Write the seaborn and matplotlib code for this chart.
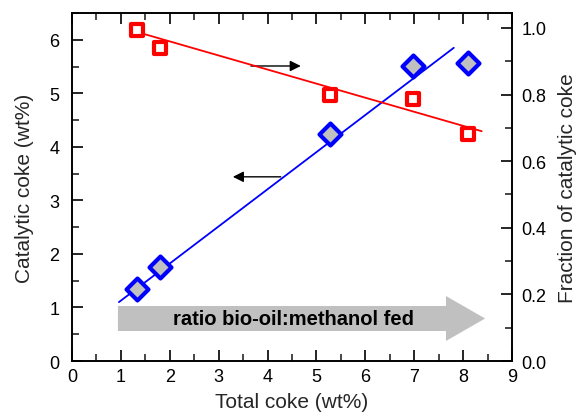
import matplotlib
matplotlib.use("Agg")
import matplotlib.pyplot as plt
from matplotlib.patches import FancyArrow
from matplotlib.ticker import MultipleLocator, FormatStrFormatter
import pandas as pd
import seaborn as sns

# Measured points
total_coke = [1.33, 1.80, 5.28, 6.97, 8.10]
catalytic_coke = [1.35, 1.76, 4.24, 5.51, 5.57]
frac_total = [1.33, 1.80, 5.28, 6.97, 8.10]
frac_catalytic = [0.994, 0.940, 0.800, 0.787, 0.682]

# Trend lines (end points of each linear fit)
cat_fit_x = [0.96, 7.81]
cat_fit_y = [1.10, 5.85]
frac_fit_x = [1.33, 8.38]
frac_fit_y = [0.988, 0.690]

sns.set_theme(style="ticks")
plt.rcParams["font.family"] = ["Liberation Sans", "DejaVu Sans"]

df_cat = pd.DataFrame({"x": total_coke, "y": catalytic_coke})
df_frac = pd.DataFrame({"x": frac_total, "y": frac_catalytic})
df_cat_fit = pd.DataFrame({"x": cat_fit_x, "y": cat_fit_y})
df_frac_fit = pd.DataFrame({"x": frac_fit_x, "y": frac_fit_y})

fig = plt.figure(figsize=(5.82, 4.14), dpi=100)
ax = fig.add_axes([0.1237, 0.1256, 0.8797 - 0.1237, 0.9662 - 0.1256])
ax2 = ax.twinx()

# Feed ratio arrow
ax.add_patch(FancyArrow(0.94, 0.794, 8.45 - 0.94, 0, width=0.467,
                        head_width=0.84, head_length=0.80,
                        length_includes_head=True, color="#c0c0c0",
                        lw=0, zorder=1))
ax.text(4.54, 0.785, "ratio bio-oil:methanol fed", ha="center",
        va="center", fontsize=14.5, fontweight="bold", color="black",
        zorder=2)

sns.lineplot(data=df_cat_fit, x="x", y="y", ax=ax, color="#0000ff",
             lw=1.3, zorder=3)
sns.scatterplot(data=df_cat, x="x", y="y", ax=ax, marker="D", s=125,
                facecolor="#c0c0c0", edgecolor="#0000ff", linewidth=3,
                zorder=4)

sns.lineplot(data=df_frac_fit, x="x", y="y", ax=ax2, color="#ff0000",
             lw=1.3, zorder=3)
sns.scatterplot(data=df_frac, x="x", y="y", ax=ax2, marker="s", s=80,
                facecolor="white", edgecolor="#ff0000", linewidth=3,
                zorder=4)

# Axis pointers
arrow_kw = dict(arrowstyle="-|>", color="black", lw=1.0, mutation_scale=16,
                shrinkA=0, shrinkB=0)
ax.annotate("", xy=(4.68, 5.51), xytext=(3.66, 5.51), arrowprops=arrow_kw,
            zorder=2)
ax.annotate("", xy=(3.29, 3.44), xytext=(4.27, 3.44), arrowprops=arrow_kw,
            zorder=2)

ax.set_xlim(0, 9)
ax.set_ylim(0, 6.5)
ax2.set_ylim(0, 1.045)

ax.xaxis.set_major_locator(MultipleLocator(1))
ax.xaxis.set_minor_locator(MultipleLocator(0.5))
ax.yaxis.set_major_locator(MultipleLocator(1))
ax.yaxis.set_minor_locator(MultipleLocator(0.5))
ax2.yaxis.set_major_locator(MultipleLocator(0.2))
ax2.yaxis.set_minor_locator(MultipleLocator(0.1))
ax2.yaxis.set_major_formatter(FormatStrFormatter("%.1f"))

ax.tick_params(axis="x", which="both", direction="in", top=True,
               bottom=True)
ax.tick_params(axis="y", which="both", direction="in", left=True,
               right=False)
ax2.tick_params(axis="y", which="both", direction="in", right=True,
                left=False)
for a in (ax, ax2):
    a.tick_params(which="major", length=8, width=1.2, labelsize=13,
                  colors="black")
    a.tick_params(which="minor", length=5, width=1.2)
    for s in a.spines.values():
        s.set_visible(True)
        s.set_linewidth(1.2)
        s.set_color("black")
ax.tick_params(axis="x", which="major", pad=5)
ax.tick_params(axis="y", which="major", pad=9)
ax2.tick_params(axis="y", which="major", pad=7)

ax.set_xlabel("Total coke (wt%)", fontsize=15, labelpad=5)
ax.set_ylabel("Catalytic coke (wt%)", fontsize=15, labelpad=11)
ax2.set_ylabel("Fraction of catalytic coke", fontsize=15, labelpad=8)

fig.savefig("out.png", dpi=100)
